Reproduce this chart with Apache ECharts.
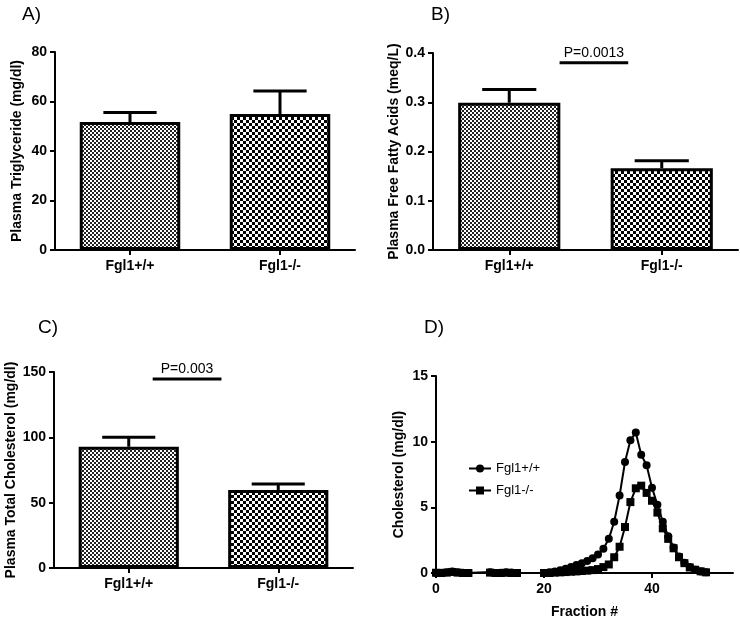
<!DOCTYPE html>
<html><head><meta charset="utf-8">
<script src="https://cdn.jsdelivr.net/npm/echarts@6/dist/echarts.min.js"></script>
<style>html,body{margin:0;padding:0;background:#fff}#c{width:740px;height:621px}</style>
</head><body><div id="c"></div>
<script>
// ---------- data ----------
const groups = ['Fgl1+/+', 'Fgl1-/-'];
const tgMean = [51.7, 54.9];
const tgSem = [3.9, 9.3];
const ffaMean = [0.299, 0.166];
const ffaSem = [0.027, 0.015];
const tcMean = [92.8, 59.7];
const tcSem = [7.2, 4.6];

const pLabels = ['P=0.0013', 'P=0.003'];
const pLevels = [0.38, 144.6];
const pSpans = [[0.83, 1.28], [0.66, 1.12]];

const fractions = [0,1,2,3,4,5,6,10,11,12,13,14,15,20,21,22,23,24,25,26,27,28,29,30,31,32,33,34,35,36,37,38,39,40,41,42,43,44,45,46,47,48,49,50];
const wtChol = [0,0.02,0.05,0.12,0.05,0.02,0,0.05,0,0.02,0.05,0.03,0,0,0.05,0.12,0.2,0.32,0.45,0.6,0.75,0.92,1.12,1.4,1.85,2.6,3.9,5.9,8.45,10.1,10.7,9.0,8.2,6.5,5.2,3.9,2.8,1.95,1.25,0.78,0.45,0.25,0.12,0.05];
const koChol = [0.02,0,0.03,0.08,0.03,0,0,0.03,0,0,0.02,0,0,0,0,0.03,0.05,0.07,0.1,0.12,0.15,0.18,0.22,0.3,0.45,0.65,1.2,2.0,3.5,5.4,6.45,6.65,6.1,5.5,4.6,3.4,2.6,1.88,1.2,0.75,0.42,0.25,0.13,0.05];
const fracTicks = [0, 20, 40];

// ---------- styles ----------
const FONT = 'Liberation Sans, Arial, sans-serif';
function checker(cell, dark) {
  const c = document.createElement('canvas');
  c.width = cell * 2; c.height = cell * 2;
  const g = c.getContext('2d');
  g.fillStyle = '#fff'; g.fillRect(0, 0, c.width, c.height);
  g.fillStyle = dark;
  g.fillRect(0, 0, cell, cell); g.fillRect(cell, cell, cell, cell);
  return c;
}
const fineFill = { image: checker(2, '#222'), repeat: 'repeat' };
const coarseFill = { image: checker(3, '#000'), repeat: 'repeat' };

const grids = [
  { left: 55, top: 52, width: 300, height: 198 },
  { left: 433, top: 53, width: 305, height: 197 },
  { left: 54, top: 372, width: 299, height: 196 },
  { left: 436, top: 376, width: 297, height: 197 }
];
grids.forEach(g => { g.containLabel = false; g.outerBoundsMode = 'none'; });

const axisLine = { show: true, lineStyle: { color: '#000', width: 2 } };
const axisTick = { show: true, length: 5, lineStyle: { color: '#000', width: 2 } };
const labelStyle = { color: '#000', fontFamily: FONT, fontSize: 14, fontWeight: 'bold' };
const nameStyle = { color: '#000', fontFamily: FONT, fontSize: 14, fontWeight: 'bold' };

function catAxis(gi) {
  return {
    type: 'category', gridIndex: gi, data: groups,
    axisLine, axisTick: Object.assign({ alignWithLabel: true }, axisTick),
    axisLabel: Object.assign({ margin: 9 }, labelStyle),
    splitLine: { show: false }
  };
}
function valAxis(gi, max, interval, name, gap, fmt) {
  return {
    type: 'value', gridIndex: gi, min: 0, max, interval,
    name, nameLocation: 'middle', nameGap: gap, nameRotate: 90, nameTextStyle: nameStyle,
    axisLine, axisTick,
    axisLabel: Object.assign({ margin: 8, formatter: fmt }, labelStyle),
    splitLine: { show: false }
  };
}
function barSeries(gi, means) {
  return {
    type: 'bar', xAxisIndex: gi, yAxisIndex: gi, barWidth: '67%',
    data: means.map((v, i) => ({
      value: v,
      itemStyle: { color: i === 0 ? fineFill : coarseFill, borderColor: '#000', borderWidth: 3 }
    })),
    silent: true, z: 2
  };
}
function errSeries(gi, means, sems) {
  return {
    type: 'custom', xAxisIndex: gi, yAxisIndex: gi, z: 1, silent: true,
    data: means.map((m, i) => [i, m, m + sems[i]]),
    renderItem(params, api) {
      const x = api.value(0);
      const lo = api.coord([x, api.value(1)]);
      const hi = api.coord([x, api.value(2)]);
      const w = api.size([1, 0])[0] * 0.355;
      const st = { stroke: '#000', lineWidth: 3 };
      return {
        type: 'group', children: [
          { type: 'line', shape: { x1: lo[0], y1: lo[1], x2: hi[0], y2: hi[1] }, style: st },
          { type: 'line', shape: { x1: hi[0] - w / 2, y1: hi[1], x2: hi[0] + w / 2, y2: hi[1] }, style: st }
        ]
      };
    }
  };
}

const option = {
  animation: false,
  backgroundColor: '#fff',
  textStyle: { fontFamily: FONT },
  title: [
    { text: 'A)', left: 22, top: 5 },
    { text: 'B)', left: 431, top: 5 },
    { text: 'C)', left: 38, top: 318 },
    { text: 'D)', left: 424, top: 318 }
  ].map(t => Object.assign(t, { padding: 0, textStyle: { fontFamily: FONT, fontSize: 19, fontWeight: 'normal', color: '#000' } })),
  grid: grids,
  legend: {
    left: 463, top: 457, orient: 'vertical', itemWidth: 22, itemHeight: 10, itemGap: 9,
    textStyle: { fontFamily: FONT, fontSize: 13, color: '#000' },
    data: ['Fgl1+/+', 'Fgl1-/-'], selectedMode: false
  },
  xAxis: [
    catAxis(0), catAxis(1), catAxis(2),
    {
      type: 'value', gridIndex: 3, min: 0, max: 55, interval: 20,
      name: 'Fraction #', nameLocation: 'middle', nameGap: 32, nameTextStyle: nameStyle,
      axisLine, axisTick: Object.assign({ customValues: fracTicks }, axisTick),
      axisLabel: Object.assign({ margin: 9, customValues: fracTicks }, labelStyle),
      splitLine: { show: false }
    }
  ],
  yAxis: [
    valAxis(0, 80, 20, 'Plasma Triglyceride (mg/dl)', 31),
    valAxis(1, 0.4, 0.1, 'Plasma Free Fatty Acids (meq/L)', 27, v => v.toFixed(1)),
    valAxis(2, 150, 50, 'Plasma Total Cholesterol (mg/dl)', 36),
    valAxis(3, 15, 5, 'Cholesterol (mg/dl)', 30)
  ],
  series: [
    barSeries(0, tgMean), errSeries(0, tgMean, tgSem),
    barSeries(1, ffaMean), errSeries(1, ffaMean, ffaSem),
    barSeries(2, tcMean), errSeries(2, tcMean, tcSem),
    {
      name: 'Fgl1+/+', type: 'line', xAxisIndex: 3, yAxisIndex: 3,
      data: fractions.map((f, i) => [f, wtChol[i]]),
      symbol: 'circle', symbolSize: 8, showAllSymbol: true,
      lineStyle: { color: '#000', width: 2 }, itemStyle: { color: '#000' }, z: 3
    },
    {
      name: 'Fgl1-/-', type: 'line', xAxisIndex: 3, yAxisIndex: 3,
      data: fractions.map((f, i) => [f, koChol[i]]),
      symbol: 'rect', symbolSize: 8, showAllSymbol: true,
      lineStyle: { color: '#000', width: 2 }, itemStyle: { color: '#000' }, z: 3
    }
  ]
};

const chart = echarts.init(document.getElementById('c'), null, { renderer: 'canvas' });
chart.setOption(option);

// significance annotations placed through the axes
const graphics = [];
[1, 2].forEach((gi, k) => {
  const c0 = chart.convertToPixel({ xAxisIndex: gi }, 0);
  const c1 = chart.convertToPixel({ xAxisIndex: gi }, 1);
  const band = c1 - c0;
  const x1 = c0 + (pSpans[k][0] - 0.5) * band;
  const x2 = c0 + (pSpans[k][1] - 0.5) * band;
  const y = chart.convertToPixel({ yAxisIndex: gi }, pLevels[k]);
  graphics.push({ type: 'line', shape: { x1, y1: y, x2, y2: y }, style: { stroke: '#000', lineWidth: 3 }, silent: true });
  graphics.push({ type: 'text', x: (x1 + x2) / 2, y: y - 3, style: { text: pLabels[k], fontFamily: FONT, fontSize: 14, fill: '#000', align: 'center', verticalAlign: 'bottom' }, silent: true });
});
chart.setOption({ graphic: graphics });
</script>
</body></html>
